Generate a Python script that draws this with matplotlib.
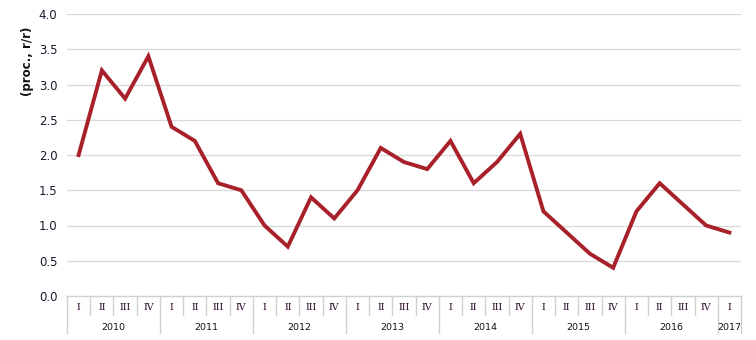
import matplotlib.pyplot as plt

# kwartalne dane 2010 Q1 - 2017 Q1
years = ['2010', '2011', '2012', '2013', '2014', '2015', '2016', '2017']
quarters = ['I', 'II', 'III', 'IV']
values = [2.0, 3.2, 2.8, 3.4,
          2.4, 2.2, 1.6, 1.5,
          1.0, 0.7, 1.4, 1.1,
          1.5, 2.1, 1.9, 1.8,
          2.2, 1.6, 1.9, 2.3,
          1.2, 0.9, 0.6, 0.4,
          1.2, 1.6, 1.3, 1.0,
          0.9]
yticks = [0.0, 0.5, 1.0, 1.5, 2.0, 2.5, 3.0, 3.5, 4.0]

n = len(values)
xs = [i + 0.5 for i in range(n)]
qlabels = [quarters[i % 4] for i in range(n)]

fig = plt.figure(figsize=(7.56, 3.4), dpi=100)
ax = fig.add_axes([67/756, 44/340, 674/756, 282/340])

ax.plot(xs, values, color='#A8202A', linewidth=2.8, solid_joinstyle='miter', zorder=3)

ax.set_xlim(0, n)
ax.set_ylim(0, 4.0)
ax.set_yticks(yticks)
ax.set_yticklabels(['%.1f' % v for v in yticks], fontsize=8.5, color='#1a1a2e')
ax.tick_params(axis='y', length=0, pad=7)
ax.set_xticks([])
for y in yticks[1:]:
    ax.axhline(y, color='#d9d9d9', linewidth=0.9, zorder=1)
for s in ['top', 'right', 'left']:
    ax.spines[s].set_visible(False)
ax.spines['bottom'].set_color('#d0d0d0')
ax.spines['bottom'].set_linewidth(1.0)

# kategorie na osi x (kwartaly + lata)
trans = ax.get_xaxis_transform()
qh = 19 / 282
yh = 37 / 282
for i in range(n + 1):
    h = yh if (i % 4 == 0 or i == n) else qh
    ax.plot([i, i], [0, -h], transform=trans, color='#d0d0d0', linewidth=1.0, clip_on=False)
for i in range(n):
    ax.text(xs[i], -11 / 282, qlabels[i], transform=trans, ha='center', va='center',
            fontsize=6.8, color='#2a0a2a', family='DejaVu Serif')
for k, yr in enumerate(years):
    start = k * 4
    end = min(start + 4, n)
    ax.text((start + end) / 2, -31 / 282, yr, transform=trans, ha='center', va='center',
            fontsize=6.8, color='#111111')

fig.text(28/756, 1 - 61/340, '(proc., r/r)', rotation=90, ha='center', va='center',
         fontsize=8.5, fontweight='bold', color='#111111')

fig.savefig('out.png', dpi=100)
